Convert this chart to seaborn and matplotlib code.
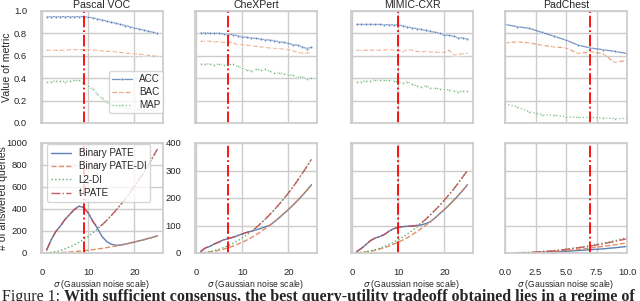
import numpy as np
import pandas as pd
import matplotlib
matplotlib.use("Agg")
import matplotlib.pyplot as plt
import seaborn as sns

# datasets and thresholds (red dash-dot line)
datasets = ["Pascal VOC", "CheXPert", "MIMIC-CXR", "PadChest"]
thresholds = [9, 7, 10, 7]

sigma_long = list(range(1, 26))
sigma_pad_top = list(range(0, 11))
sigma_pad_bot = list(range(1, 11))

# top row: metric values
acc_voc = [0.95, 0.95, 0.95, 0.95, 0.95, 0.95, 0.95, 0.95, 0.95, 0.945, 0.94, 0.93, 0.92,
           0.91, 0.90, 0.89, 0.88, 0.87, 0.86, 0.85, 0.84, 0.83, 0.82, 0.81, 0.80]
bac_voc = [0.65, 0.65, 0.65, 0.65, 0.65, 0.655, 0.655, 0.655, 0.655, 0.655, 0.65, 0.65, 0.645,
           0.64, 0.64, 0.635, 0.63, 0.625, 0.62, 0.62, 0.615, 0.61, 0.605, 0.60, 0.60]
map_voc = [0.37, 0.37, 0.375, 0.375, 0.37, 0.375, 0.38, 0.38, 0.355, 0.33, 0.30, 0.26, 0.22,
           0.19, 0.17, 0.155, 0.145, 0.135, 0.13, 0.125, 0.12, 0.12, 0.115, 0.115, 0.115]

acc_chex = [0.805, 0.805, 0.80, 0.80, 0.80, 0.795, 0.79, 0.79, 0.78, 0.77, 0.765, 0.76, 0.755,
            0.75, 0.745, 0.74, 0.735, 0.725, 0.72, 0.71, 0.70, 0.695, 0.68, 0.665, 0.675]
bac_chex = [0.73, 0.73, 0.73, 0.725, 0.725, 0.72, 0.725, 0.715, 0.70, 0.70, 0.695, 0.69, 0.685,
            0.68, 0.675, 0.67, 0.665, 0.665, 0.66, 0.655, 0.645, 0.63, 0.625, 0.625, 0.63]
map_chex = [0.53, 0.525, 0.53, 0.52, 0.525, 0.515, 0.52, 0.525, 0.505, 0.49, 0.475, 0.465, 0.48,
            0.475, 0.48, 0.46, 0.45, 0.445, 0.44, 0.43, 0.425, 0.41, 0.415, 0.395, 0.40]

acc_mimic = [0.88, 0.88, 0.88, 0.88, 0.88, 0.88, 0.878, 0.878, 0.876, 0.875, 0.868, 0.858, 0.85,
             0.843, 0.835, 0.826, 0.818, 0.81, 0.80, 0.785, 0.783, 0.775, 0.762, 0.757, 0.752]
bac_mimic = [0.65, 0.648, 0.65, 0.65, 0.652, 0.65, 0.652, 0.655, 0.652, 0.65, 0.635, 0.655, 0.65,
             0.64, 0.635, 0.64, 0.635, 0.632, 0.63, 0.632, 0.65, 0.61, 0.61, 0.62, 0.622]
map_mimic = [0.37, 0.37, 0.375, 0.378, 0.385, 0.38, 0.382, 0.38, 0.375, 0.365, 0.355, 0.37, 0.345,
             0.33, 0.325, 0.33, 0.315, 0.31, 0.305, 0.30, 0.295, 0.29, 0.28, 0.285, 0.285]

acc_pad = [0.88, 0.86, 0.845, 0.81, 0.775, 0.74, 0.695, 0.67, 0.655, 0.64, 0.62]
bac_pad = [0.715, 0.725, 0.715, 0.695, 0.68, 0.67, 0.62, 0.635, 0.62, 0.54, 0.56]
map_pad = [0.17, 0.145, 0.10, 0.075, 0.07, 0.055, 0.05, 0.05, 0.045, 0.04, 0.04]

# bottom row: number of answered queries
bpate_voc = [25, 120, 195, 245, 305, 350, 395, 425, 415, 365, 290, 225, 150, 105, 80, 70, 72,
             80, 90, 100, 110, 120, 132, 143, 155]
bpdi_voc = [0, 1, 2, 4, 6, 9, 12, 16, 20, 25, 30, 36, 42, 49, 56, 64, 72, 80, 90, 100, 110,
            120, 132, 143, 155]
l2di_voc = [2, 6, 14, 24, 38, 55, 74, 97, 122, 150, 182, 217, 255, 296, 340, 387, 437, 490,
            546, 605, 667, 732, 800, 871, 945]
tpate_voc = [25, 120, 195, 245, 305, 350, 395, 425, 415, 365, 290, 230, 255, 296, 340, 387,
             437, 490, 546, 605, 667, 732, 800, 871, 945]

bpate_chex = [5, 18, 24, 33, 40, 48, 52, 57, 63, 69, 75, 79, 84, 89, 95, 101, 114, 128, 143,
              158, 174, 191, 209, 228, 248]
bpdi_chex = [0, 2, 4, 6, 10, 14, 19, 25, 32, 39, 47, 56, 66, 77, 89, 101, 114, 128, 143, 158,
             174, 191, 209, 228, 248]
l2di_chex = [1, 2, 5, 9, 14, 20, 27, 35, 44, 55, 66, 79, 92, 107, 123, 140, 158, 177, 197, 218,
             240, 264, 289, 314, 341]
tpate_chex = [5, 18, 24, 33, 40, 48, 52, 57, 63, 69, 75, 79, 92, 107, 123, 140, 158, 177, 197,
              218, 240, 264, 289, 314, 341]

bpate_mimic = [5, 16, 30, 45, 54, 60, 67, 79, 88, 93, 96, 97, 98, 100, 102, 107, 114, 128, 143,
               158, 174, 191, 209, 228, 248]
bpdi_mimic = [0, 2, 4, 6, 10, 14, 19, 25, 32, 39, 47, 56, 66, 77, 89, 101, 114, 128, 143, 158,
              174, 191, 209, 228, 248]
l2di_mimic = [0, 2, 4, 8, 12, 17, 23, 31, 39, 48, 58, 69, 81, 94, 108, 123, 139, 156, 173, 192,
              212, 232, 254, 277, 300]
tpate_mimic = [5, 16, 30, 45, 54, 60, 67, 79, 88, 93, 96, 97, 98, 100, 108, 123, 139, 156, 173,
               192, 212, 232, 254, 277, 300]

bpate_pad = [0, 1, 2, 4, 6, 9, 12, 15, 19, 24]
bpdi_pad = [0, 1, 3, 6, 9, 13, 18, 24, 30, 37]
l2di_pad = [1, 2, 5, 9, 14, 20, 27, 35, 45, 56]
tpate_pad = [1, 2, 5, 8, 13, 19, 25, 33, 42, 52]

top_x = [sigma_long, sigma_long, sigma_long, sigma_pad_top]
top_vals = [(acc_voc, bac_voc, map_voc), (acc_chex, bac_chex, map_chex),
            (acc_mimic, bac_mimic, map_mimic), (acc_pad, bac_pad, map_pad)]
bot_x = [sigma_long, sigma_long, sigma_long, sigma_pad_bot]
bot_vals = [(bpate_voc, bpdi_voc, l2di_voc, tpate_voc),
            (bpate_chex, bpdi_chex, l2di_chex, tpate_chex),
            (bpate_mimic, bpdi_mimic, l2di_mimic, tpate_mimic),
            (bpate_pad, bpdi_pad, l2di_pad, tpate_pad)]

sns.set_theme(style="whitegrid")
plt.rcParams['font.family'] = ['Liberation Sans', 'DejaVu Sans']
fs = 7.6      # titles, y labels
lfs = 7.1     # legends
tfs = 6.8     # tick labels
xfs = 6.2     # x labels
pal = sns.color_palette("deep")

fig = plt.figure(figsize=(6.4, 3.01), dpi=100)
W, H = 640.0, 301.0
lefts = [41, 195, 351, 505]
aw = 122


def box(l, t, w, h):
    return [l / W, 1 - (t + h) / H, w / W, h / H]


metric_names = ["ACC", "BAC", "MAP"]
metric_styles = [dict(linestyle='-', marker='o', markersize=2.0),
                 dict(linestyle='--', marker='o', markersize=2.4, markerfacecolor='none'),
                 dict(linestyle=':', marker='s', markersize=2.0)]
method_names = ["Binary PATE", "Binary PATE-DI", "L2-DI", "t-PATE"]
method_ls = ['-', '--', ':', '-.']

for i in range(4):
    ax = fig.add_axes(box(lefts[i], 11, aw, 112))
    for j in range(3):
        sns.lineplot(x=top_x[i], y=top_vals[i][j], ax=ax, color=pal[j], label=metric_names[j],
                     linewidth=0.9, alpha=0.75, markeredgewidth=0.6, **metric_styles[j])
    ax.axvline(thresholds[i], color='red', linestyle='-.', linewidth=1.3)
    ax.set_ylim(0, 1.0)
    ax.set_yticks([0, 0.2, 0.4, 0.6, 0.8, 1.0])
    ax.set_title(datasets[i], fontsize=fs, pad=2)
    if i == 3:
        ax.set_xlim(0, 10)
        ax.set_xticks([0, 2.5, 5, 7.5, 10])
    else:
        ax.set_xticks([0, 10, 20])
    ax.set_xticklabels([])
    ax.tick_params(labelsize=tfs, pad=4)
    if i == 0:
        ax.set_ylabel("Value of metric", fontsize=fs)
        ax.yaxis.set_label_coords(-0.235, 0.5)
        ax.legend(fontsize=lfs, loc='lower right', bbox_to_anchor=(1.0, 0.09),
                  borderaxespad=0, handlelength=2.0, borderpad=0.3, labelspacing=0.3,
                  handletextpad=0.7)
    else:
        ax.set_yticklabels([])
        ax.get_legend().remove()

    bx = fig.add_axes(box(lefts[i], 143, aw, 110))
    for j in range(4):
        sns.lineplot(x=bot_x[i], y=bot_vals[i][j], ax=bx, color=pal[j], label=method_names[j],
                     linewidth=1.0, alpha=0.9, linestyle=method_ls[j])
    bx.axvline(thresholds[i], color='red', linestyle='-.', linewidth=1.3)
    if i == 0:
        bx.set_ylim(0, 1000)
        bx.set_yticks([0, 200, 400, 600, 800, 1000])
        bx.set_ylabel("# of answered queries", fontsize=fs)
        bx.yaxis.set_label_coords(-0.27, 0.5)
        bx.legend(fontsize=lfs, loc='upper left', bbox_to_anchor=(0.05, 0.99),
                  borderaxespad=0, handlelength=2.0, borderpad=0.4, labelspacing=0.35,
                  handletextpad=0.8)
    else:
        bx.set_ylim(0, 400)
        bx.set_yticks([0, 100, 200, 300, 400])
        bx.get_legend().remove()
        if i != 1:
            bx.set_yticklabels([])
    if i == 3:
        bx.set_xlim(0, 10)
        bx.set_xticks([0, 2.5, 5, 7.5, 10])
        bx.set_xticklabels(["0.0", "2.5", "5.0", "7.5", "10.0"])
    else:
        bx.set_xticks([0, 10, 20])
    bx.tick_params(axis='y', labelsize=tfs, pad=4)
    bx.tick_params(axis='x', labelsize=tfs, pad=5)
    bx.set_xlabel(r"$\sigma$ (Gaussian noise scale)", fontsize=xfs, labelpad=0.5)

# caption (cut off at the bottom in the reference)
t1 = fig.text(0.003, -0.001, "Figure 1: ", fontsize=11.5, family='Liberation Serif',
              va='baseline', ha='left')
fig.canvas.draw()
bb = t1.get_window_extent()
fig.text(bb.x1 / W, -0.001, "With sufficient consensus, the best query-utility tradeoff obtained lies in a regime of",
         fontsize=11.5, family='Liberation Serif', weight='bold', va='baseline', ha='left')

fig.savefig("out.png", dpi=100)
